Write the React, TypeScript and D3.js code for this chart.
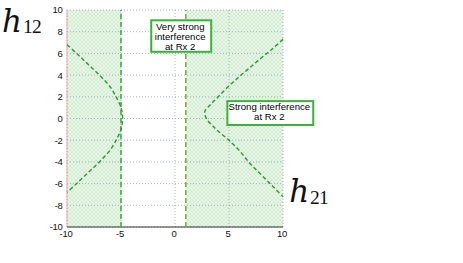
import React from 'react';
import * as d3 from 'd3';

// hyperbola-like boundaries
const leftCurve: [number, number][] = [
  [-10, 6.8], [-9, 5.9], [-8, 4.95], [-7, 4.0], [-6, 2.9], [-5.4, 1.9], [-5.0, 1.0], [-4.85, 0],
  [-5.0, -1.0], [-5.4, -1.9], [-6, -2.9], [-7, -4.0], [-8, -4.95], [-9, -5.9], [-10, -6.8],
];
const rightCurve: [number, number][] = [
  [10, 7.3], [9, 6.4], [8, 5.6], [6.9, 4.66], [6, 3.9], [5, 3.0], [4, 2.0], [3.3, 1.3], [2.8, 0.75],
  [2.75, 0.45], [3.0, -0.15], [3.5, -0.7], [4, -1.17], [5, -2.0], [6, -3.0], [6.9, -4.1], [8, -5.2],
  [9, -6.2], [10, -7.2],
];
const shadedRegions: [number, number][] = [[-10, -5], [1, 10]];
const dashedLines = [-5, 1];
const xTicks = [-10, -5, 0, 5, 10];
const yTicks = [-10, -8, -6, -4, -2, 0, 2, 4, 6, 8, 10];
const annotations = [
  { lines: ['Very strong', 'interference', 'at Rx 2'], x0: -2.2, x1: 3.35, y0: 9.05, y1: 6.15 },
  { lines: ['Strong interference', 'at Rx 2'], x0: 4.85, x1: 12.8, y0: 1.6, y1: -0.6 },
];

export default function App() {
  const x = d3.scaleLinear().domain([-10, 10]).range([67, 283]);
  const y = d3.scaleLinear().domain([-10, 10]).range([227, 10]);
  const line = d3.line<[number, number]>().x(d => x(d[0])).y(d => y(d[1])).curve(d3.curveCatmullRom);
  const sans = 'Liberation Sans, Arial, sans-serif';
  const serif = 'Liberation Serif, DejaVu Serif, serif';

  return (
    <svg width={463} height={263} style={{ position: 'absolute', left: 0, top: 0 }}>
      <defs>
        <pattern id="hatch" width={4} height={4} patternUnits="userSpaceOnUse">
          <rect width={4} height={4} fill="#eaf7ea" />
          <path d="M0,4 L4,0 M0,0 L4,4" stroke="#c8e8c8" strokeWidth={0.7} />
        </pattern>
      </defs>
      <rect width={463} height={263} fill="#fff" />

      {/* shaded regions */}
      {shadedRegions.map(([a, b], i) => (
        <rect key={i} x={x(a)} y={y(10)} width={x(b) - x(a)} height={y(-10) - y(10)} fill="url(#hatch)" />
      ))}

      {/* grid */}
      {xTicks.map(t => (
        <line key={'gx' + t} x1={x(t)} x2={x(t)} y1={y(-10)} y2={y(10)}
          stroke="#8fa3ad" strokeWidth={0.8} strokeDasharray="1,2" />
      ))}
      {yTicks.map(t => (
        <line key={'gy' + t} x1={x(-10)} x2={x(10)} y1={y(t)} y2={y(t)}
          stroke="#8fa3ad" strokeWidth={0.8} strokeDasharray="1,2" />
      ))}

      {/* axes */}
      <line x1={x(-10)} x2={x(-10)} y1={y(-10)} y2={y(10)} stroke="#f6a8a8" strokeWidth={1} />
      <line x1={x(-10)} x2={x(10)} y1={y(-10)} y2={y(-10)} stroke="#333" strokeWidth={1} />

      {/* boundaries */}
      {dashedLines.map((v, i) => (
        <line key={'d' + v} x1={x(v)} x2={x(v)} y1={y(-10)} y2={y(10)}
          stroke={i === 0 ? '#3fb03f' : '#7fae3a'} strokeWidth={1.6} strokeDasharray="5,3" />
      ))}
      <path d={line(leftCurve) || ''} fill="none" stroke="#2a9a2a" strokeWidth={1.4} strokeDasharray="4,2.5" />
      <path d={line(rightCurve) || ''} fill="none" stroke="#2a9a2a" strokeWidth={1.4} strokeDasharray="4,2.5" />

      {/* tick labels */}
      {yTicks.map(t => (
        <text key={'ty' + t} x={62.5} y={y(t) + 3.4} textAnchor="end" fontFamily={sans}
          fontSize={9.5} fill="#111" letterSpacing={-0.3}>{t}</text>
      ))}
      {xTicks.map(t => (
        <text key={'tx' + t} x={x(t) - 1} y={237} textAnchor="middle" fontFamily={sans}
          fontSize={9.5} fill="#111" letterSpacing={-0.3}>{t}</text>
      ))}

      {/* annotation boxes */}
      {annotations.map((a, i) => {
        const cx = (x(a.x0) + x(a.x1)) / 2;
        const top = y(a.y0);
        return (
          <g key={'a' + i}>
            <rect x={x(a.x0)} y={top} width={x(a.x1) - x(a.x0)} height={y(a.y1) - top}
              fill="#fff" stroke="#35b535" strokeWidth={2} />
            {a.lines.map((l, j) => (
              <text key={j} x={cx - 1} y={top + 9.2 + j * 10} textAnchor="middle"
                fontFamily={sans} fontSize={9.6} fill="#000">{l}</text>
            ))}
          </g>
        );
      })}

      {/* axis symbols */}
      <text x={2} y={31.7} fontFamily="DejaVu Serif, serif" fontSize={31} fontStyle="italic" fill="#111">h</text>
      <text x={23} y={33.3} fontFamily={serif} fontSize={19.5} letterSpacing={-0.8} fill="#111">12</text>
      <text x={289.3} y={201.7} fontFamily="DejaVu Serif, serif" fontSize={31} fontStyle="italic" fill="#111">h</text>
      <text x={310} y={204.3} fontFamily={serif} fontSize={19.5} letterSpacing={-0.8} fill="#111">21</text>
    </svg>
  );
}
